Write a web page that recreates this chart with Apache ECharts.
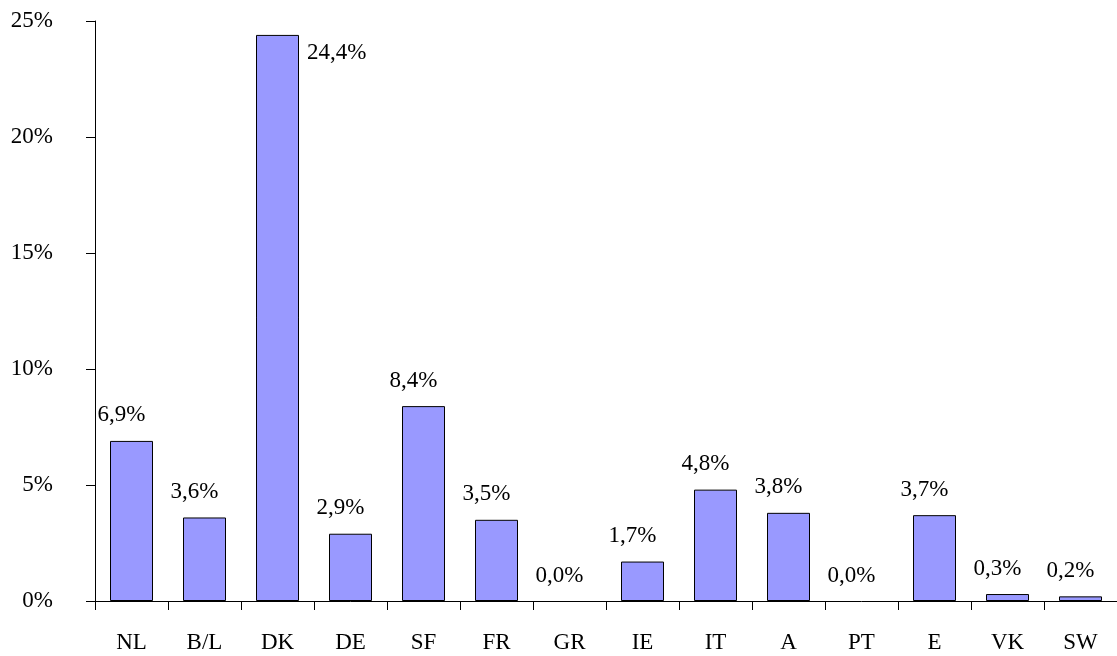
<!DOCTYPE html>
<html>
<head>
<meta charset="utf-8">
<script src="https://cdn.jsdelivr.net/npm/echarts@6/dist/echarts.min.js"></script>
<style>
  html, body { margin: 0; padding: 0; background: #fff; }
  #main { width: 1117px; height: 656px; }
</style>
</head>
<body>
<div id="main"></div>
<script>
// countries and their share (percent)
var countries = ['NL', 'B/L', 'DK', 'DE', 'SF', 'FR', 'GR', 'IE', 'IT', 'A', 'PT', 'E', 'VK', 'SW'];
var shares = [6.9, 3.6, 24.4, 2.9, 8.4, 3.5, 0.0, 1.7, 4.8, 3.8, 0.0, 3.7, 0.3, 0.2];
var yTicks = [0, 5, 10, 15, 20, 25];

var font = 'Liberation Serif';

function pct(v) {
    return v.toFixed(1).replace('.', ',') + '%';
}

var chart = echarts.init(document.getElementById('main'), null, { renderer: 'canvas' });

var maxShare = Math.max.apply(null, shares);
var barData = shares.map(function (v) {
    var item = { value: v };
    // tallest bar has its label on the right side, like the original
    if (v === maxShare) {
        item.label = {
            position: ['100%', 0],
            align: 'left',
            verticalAlign: 'top',
            offset: [8, 7]
        };
    }
    // empty bars: no outline
    if (v === 0) {
        item.itemStyle = { borderWidth: 0 };
    }
    return item;
});

var option = {
    backgroundColor: '#fff',
    animation: false,
    grid: { left: 95, right: 0, top: 21, bottom: 55 },
    xAxis: {
        type: 'category',
        data: countries,
        axisLine: { lineStyle: { color: '#000', width: 1 } },
        axisTick: { show: true, length: 9, alignWithLabel: false, lineStyle: { color: '#000' } },
        axisLabel: { color: '#000', fontFamily: font, fontSize: 23, margin: 30 }
    },
    yAxis: {
        type: 'value',
        min: yTicks[0],
        max: yTicks[yTicks.length - 1],
        interval: 5,
        splitLine: { show: false },
        axisLine: { show: true, lineStyle: { color: '#000', width: 1 } },
        axisTick: { show: true, length: 9, lineStyle: { color: '#000' } },
        axisLabel: {
            color: '#000', fontFamily: font, fontSize: 23, margin: 42,
            formatter: function (v) { return v + '%'; }
        }
    },
    series: [{
        type: 'bar',
        data: barData,
        barWidth: 43,
        itemStyle: { color: '#9999ff', borderColor: '#000', borderWidth: 1 },
        label: {
            show: true,
            position: 'top',
            distance: 14,
            offset: [-10, 0],
            color: '#000',
            fontFamily: font,
            fontSize: 23,
            formatter: function (p) { return pct(p.value); }
        }
    }]
};
chart.setOption(option);
</script>
</body>
</html>
